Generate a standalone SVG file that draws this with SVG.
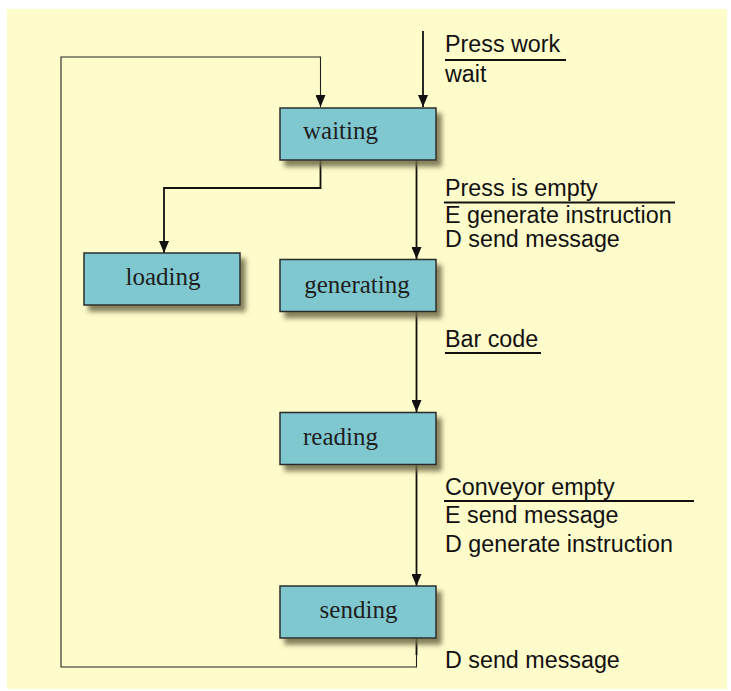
<svg xmlns="http://www.w3.org/2000/svg" width="731" height="691" viewBox="0 0 731 691">
<defs>
<filter id="sh" x="-20%" y="-20%" width="150%" height="160%">
<feGaussianBlur in="SourceAlpha" stdDeviation="2.5"/>
<feOffset dx="5" dy="6" result="b"/>
<feFlood flood-color="#6e6a48" flood-opacity="0.85"/>
<feComposite in2="b" operator="in"/>
<feMerge><feMergeNode/><feMergeNode in="SourceGraphic"/></feMerge>
</filter>
<marker id="ah" viewBox="0 0 12 10" refX="12" refY="5" markerWidth="12" markerHeight="10" markerUnits="userSpaceOnUse" orient="auto">
<path d="M0,0 L12,5 L0,10 Z" fill="#111"/>
</marker>
</defs>
<style>
.node rect{fill:#80c8d0;stroke:#2b2b2b;stroke-width:1.5;filter:url(#sh)}
.node text{font-family:"Liberation Serif","Times New Roman",serif;font-size:25px;fill:#1e1e1e}
.lbl{font-family:"Liberation Sans",Arial,sans-serif;font-size:23.3px;fill:#111}
.c{fill:none;stroke:#111;stroke-width:1.8}
.thin{fill:none;stroke:#222;stroke-width:1.1}
.ul{stroke:#111;stroke-width:1.8}
</style>
<rect x="7" y="9" width="720" height="680" fill="#fffccc"/>
<g id="connectors">
<path class="thin" d="M416.5,638 V667 H61 V57 H320.5 V107" marker-end="url(#ah)"/>
<path class="c" d="M416.5,638 V655"/>
<path class="c" d="M423,31 V107" marker-end="url(#ah)"/>
<path class="c" d="M320.5,160 V188 H164 V253" marker-end="url(#ah)"/>
<path class="c" d="M416.5,160 V259" marker-end="url(#ah)"/>
<path class="c" d="M416.5,311 V412" marker-end="url(#ah)"/>
<path class="c" d="M416.5,464 V586" marker-end="url(#ah)"/>
</g>
<g id="waiting" class="node"><rect x="280" y="108" width="156" height="52"/><text x="303" y="139">waiting</text></g>
<g id="loading" class="node"><rect x="84" y="253" width="156" height="52"/><text x="163" y="285" text-anchor="middle">loading</text></g>
<g id="generating" class="node"><rect x="280" y="259.5" width="156" height="52"/><text x="357" y="293" text-anchor="middle">generating</text></g>
<g id="reading" class="node"><rect x="280" y="412.5" width="156" height="52"/><text x="303" y="445">reading</text></g>
<g id="sending" class="node"><rect x="280" y="586" width="156" height="52"/><text x="358.5" y="618" text-anchor="middle">sending</text></g>
<g id="labels">
<text class="lbl" x="445" y="52">Press work</text>
<line class="ul" x1="445" y1="60" x2="566" y2="60"/>
<text class="lbl" x="445" y="82">wait</text>
<text class="lbl" x="445" y="196">Press is empty</text>
<line class="ul" x1="444" y1="202.5" x2="675" y2="202.5"/>
<text class="lbl" x="445" y="223">E generate instruction</text>
<text class="lbl" x="445" y="247">D send message</text>
<text class="lbl" x="445" y="347">Bar code</text>
<line class="ul" x1="445" y1="353" x2="541" y2="353"/>
<text class="lbl" x="445" y="495">Conveyor empty</text>
<line class="ul" x1="444" y1="501" x2="694" y2="501"/>
<text class="lbl" x="445" y="523">E send message</text>
<text class="lbl" x="445" y="551.5">D generate instruction</text>
<text class="lbl" x="445" y="668">D send message</text>
</g>
</svg>
